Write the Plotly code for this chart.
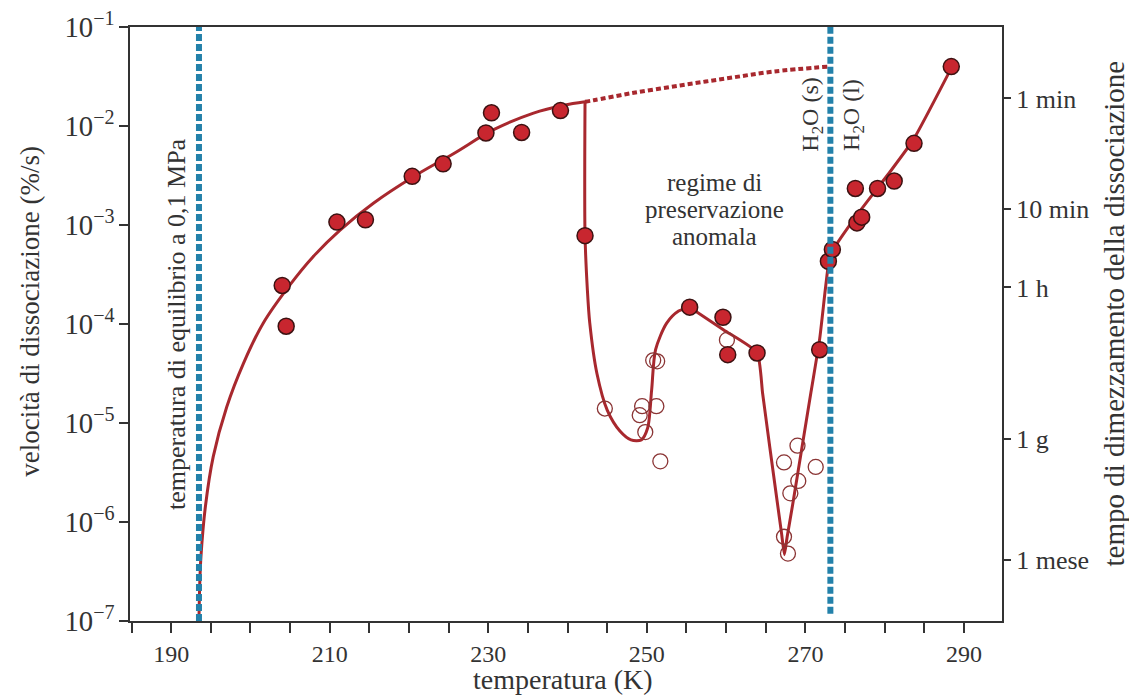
import plotly.graph_objects as go

# ---------------- data ----------------
# measured dissociation rates, filled symbols (T in K, rate in %/s)
filled_T = [204.0, 204.5, 210.9, 214.5, 220.4, 224.3, 229.7, 230.4, 234.2, 239.1,
            242.2, 255.4, 259.6, 260.2, 263.9, 271.8, 272.9, 273.4, 276.5, 277.1,
            276.3, 279.1, 281.2, 283.7, 288.4]
filled_rate = [2.45e-4, 9.5e-5, 1.07e-3, 1.13e-3, 3.1e-3, 4.15e-3, 8.5e-3, 1.36e-2, 8.6e-3, 1.43e-2,
               7.8e-4, 1.48e-4, 1.17e-4, 4.9e-5, 5.1e-5, 5.5e-5, 4.3e-4, 5.66e-4, 1.05e-3, 1.2e-3,
               2.34e-3, 2.34e-3, 2.78e-3, 6.68e-3, 3.98e-2]

# measured dissociation rates, open symbols
open_T = [244.7, 250.8, 251.3, 249.4, 251.2, 249.1, 249.8, 251.7, 260.1,
          269.0, 267.3, 271.3, 269.1, 268.1, 267.3, 267.8]
open_rate = [1.40e-5, 4.3e-5, 4.2e-5, 1.48e-5, 1.48e-5, 1.2e-5, 8.1e-6, 4.1e-6, 6.9e-5,
             5.9e-6, 4.0e-6, 3.6e-6, 2.6e-6, 1.95e-6, 7.1e-7, 4.8e-7]

# guide curve: rise from the equilibrium temperature
rise_T = [193.5, 193.6, 193.75, 194.3, 195.3, 197.0, 199.1, 201.6, 205.0, 207.9,
          211.3, 215.5, 220.6, 225.6, 230.6, 235.7, 239.5, 242.2]
rise_rate = [1e-7, 2.4e-7, 4.47e-7, 1.41e-6, 4.57e-6, 1.45e-5, 3.98e-5, 1.02e-4, 2.5e-4, 4.79e-4,
             8.9e-4, 1.66e-3, 3.09e-3, 5.25e-3, 9.12e-3, 1.35e-2, 1.62e-2, 1.76e-2]

# guide curve: drop into the first minimum and up to the local peak
dip1_T = [242.2, 242.2, 242.5, 242.8, 243.7, 245.0, 246.6, 248.0, 249.3, 250.1,
          250.6, 251.1, 252.5, 254.0, 255.4]
dip1_rate = [1.76e-2, 7.94e-4, 2.19e-4, 1.02e-4, 3.16e-5, 1.35e-5, 8.3e-6, 6.76e-6, 6.76e-6, 8.9e-6,
             2.14e-5, 5.5e-5, 1.02e-4, 1.35e-4, 1.48e-4]

# guide curve: from the peak through the second minimum and above the melting point
dip2_T = [255.4, 259.7, 263.9, 264.6, 265.5, 266.4, 267.0, 267.35, 267.7, 268.4,
          269.5, 270.7, 271.8, 272.5, 273.0, 273.5, 276.5, 280.7, 283.6, 288.5]
dip2_rate = [1.48e-4, 8.7e-5, 5.13e-5, 2.0e-5, 5.75e-6, 1.7e-6, 7.59e-7, 4.68e-7, 7.08e-7, 1.51e-6,
             5.25e-6, 2.04e-5, 7.08e-5, 2.19e-4, 4.47e-4, 5.62e-4, 1.26e-3, 3.47e-3, 7.24e-3, 3.98e-2]

# extrapolated (dotted) curve
extrap_T = [242.2, 243.3, 248.0, 254.2, 260.0, 266.0, 272.9]
extrap_rate = [1.76e-2, 1.82e-2, 2.14e-2, 2.57e-2, 3.02e-2, 3.55e-2, 3.98e-2]

# reference temperatures
equilibrium_T = 193.5
melting_T = 273.15

# right-axis (half-life) ticks
halflife_labels = ["1 min", "10 min", "1 h", "1 g", "1 mese"]
halflife_rates = [1.9e-2, 1.44e-3, 2.34e-4, 6.97e-6, 4.1e-7]

# x-axis ticks
x_ticks = [190, 210, 230, 250, 270, 290]

# ---------------- styling ----------------
FONT = "Liberation Serif, Times New Roman, serif"
TXT = "#333333"
RED_LINE = "#a8282e"
RED_FILL = "#c8262f"
RED_EDGE = "#3c1212"
OPEN_EDGE = "#8a3434"
BLUE = "#2381aa"

fig = go.Figure()

fig.add_trace(go.Scatter(x=extrap_T, y=extrap_rate, mode="lines",
                         line=dict(color=RED_LINE, width=4, dash="5px,3px", shape="spline"),
                         hoverinfo="skip", showlegend=False))
for tx, ty, sm in [(rise_T, rise_rate, 1.0), (dip1_T, dip1_rate, 0.8), (dip2_T, dip2_rate, 0.5)]:
    fig.add_trace(go.Scatter(x=tx, y=ty, mode="lines",
                             line=dict(color=RED_LINE, width=3, shape="spline", smoothing=sm),
                             hoverinfo="skip", showlegend=False))

fig.add_trace(go.Scatter(x=open_T, y=open_rate, mode="markers",
                         marker=dict(symbol="circle-open", size=15, color=OPEN_EDGE,
                                     line=dict(width=1.3, color=OPEN_EDGE)),
                         showlegend=False))
fig.add_trace(go.Scatter(x=filled_T, y=filled_rate, mode="markers",
                         marker=dict(symbol="circle", size=16, color=RED_FILL,
                                     line=dict(width=1.5, color=RED_EDGE)),
                         showlegend=False))
# invisible trace so that the right axis is drawn
fig.add_trace(go.Scatter(x=filled_T, y=filled_rate, yaxis="y2", mode="markers",
                         marker=dict(opacity=0), hoverinfo="skip", showlegend=False))

# vertical reference lines
fig.add_shape(type="line", xref="x", yref="paper", x0=equilibrium_T, x1=equilibrium_T,
              y0=0, y1=1, line=dict(color=BLUE, width=6, dash="7px,3px"))
fig.add_shape(type="line", xref="x", yref="paper", x0=melting_T, x1=melting_T,
              y0=0.012, y1=1, line=dict(color=BLUE, width=6, dash="7px,3px"))


def note(text, x, y, size, angle=0, xref="x", yref="paper"):
    fig.add_annotation(x=x, y=y, xref=xref, yref=yref, text=text, textangle=angle,
                       xanchor="center", yanchor="middle", showarrow=False,
                       font=dict(family=FONT, size=size, color=TXT))


note("temperatura di equilibrio a 0,1 MPa", 190.6, 0.50, 26, -90)
note("regime di", 258.5, 0.738, 25)
note("preservazione", 258.5, 0.692, 25)
note("anomala", 258.5, 0.647, 25)
note("H<sub>2</sub>O (s)", 270.8, 0.852, 24, -90)
note("H<sub>2</sub>O (l)", 276.0, 0.852, 24, -90)

# axis titles
note("temperatura (K)", 0.4966, -0.098, 28, 0, "paper")
note("velocità di dissociazione (%/s)", -0.115, 0.522, 27, -90, "paper")
note("tempo di dimezzamento della dissociazione", 1.128, 0.517, 29, -90, "paper")

axis_line = dict(showline=True, linecolor="#333333", linewidth=1.5, showgrid=False,
                 zeroline=False, automargin=False)

fig.update_layout(
    width=1129, height=695,
    margin=dict(l=130, r=127, t=27, b=74),
    paper_bgcolor="white", plot_bgcolor="white",
    font=dict(family=FONT, color=TXT, size=23),
    xaxis=dict(range=[184.8, 294.8], tickvals=x_ticks, ticks="outside", ticklen=10,
               tickwidth=1.5, tickcolor="#333333", mirror=True,
               minor=dict(dtick=5, tick0=185, ticks="outside", ticklen=10, tickwidth=1.5,
                          tickcolor="#333333"),
               tickfont=dict(size=24), **axis_line),
    yaxis=dict(type="log", range=[-7, -1], dtick=1, exponentformat="power",
               ticks="outside", ticklen=9, tickwidth=1.5, tickcolor="#333333", mirror=True,
               tickfont=dict(size=23), **axis_line),
    yaxis2=dict(type="log", range=[-7, -1], overlaying="y", side="right",
                tickvals=halflife_rates, ticktext=halflife_labels,
                ticks="outside", ticklen=8, tickwidth=1.5, tickcolor="#333333",
                tickfont=dict(size=26), showline=False, showgrid=False, zeroline=False,
                automargin=False),
)

fig.write_html("out.html", config={"displayModeBar": False},
               post_script="document.body.style.margin='0';document.body.style.overflow='hidden';")
